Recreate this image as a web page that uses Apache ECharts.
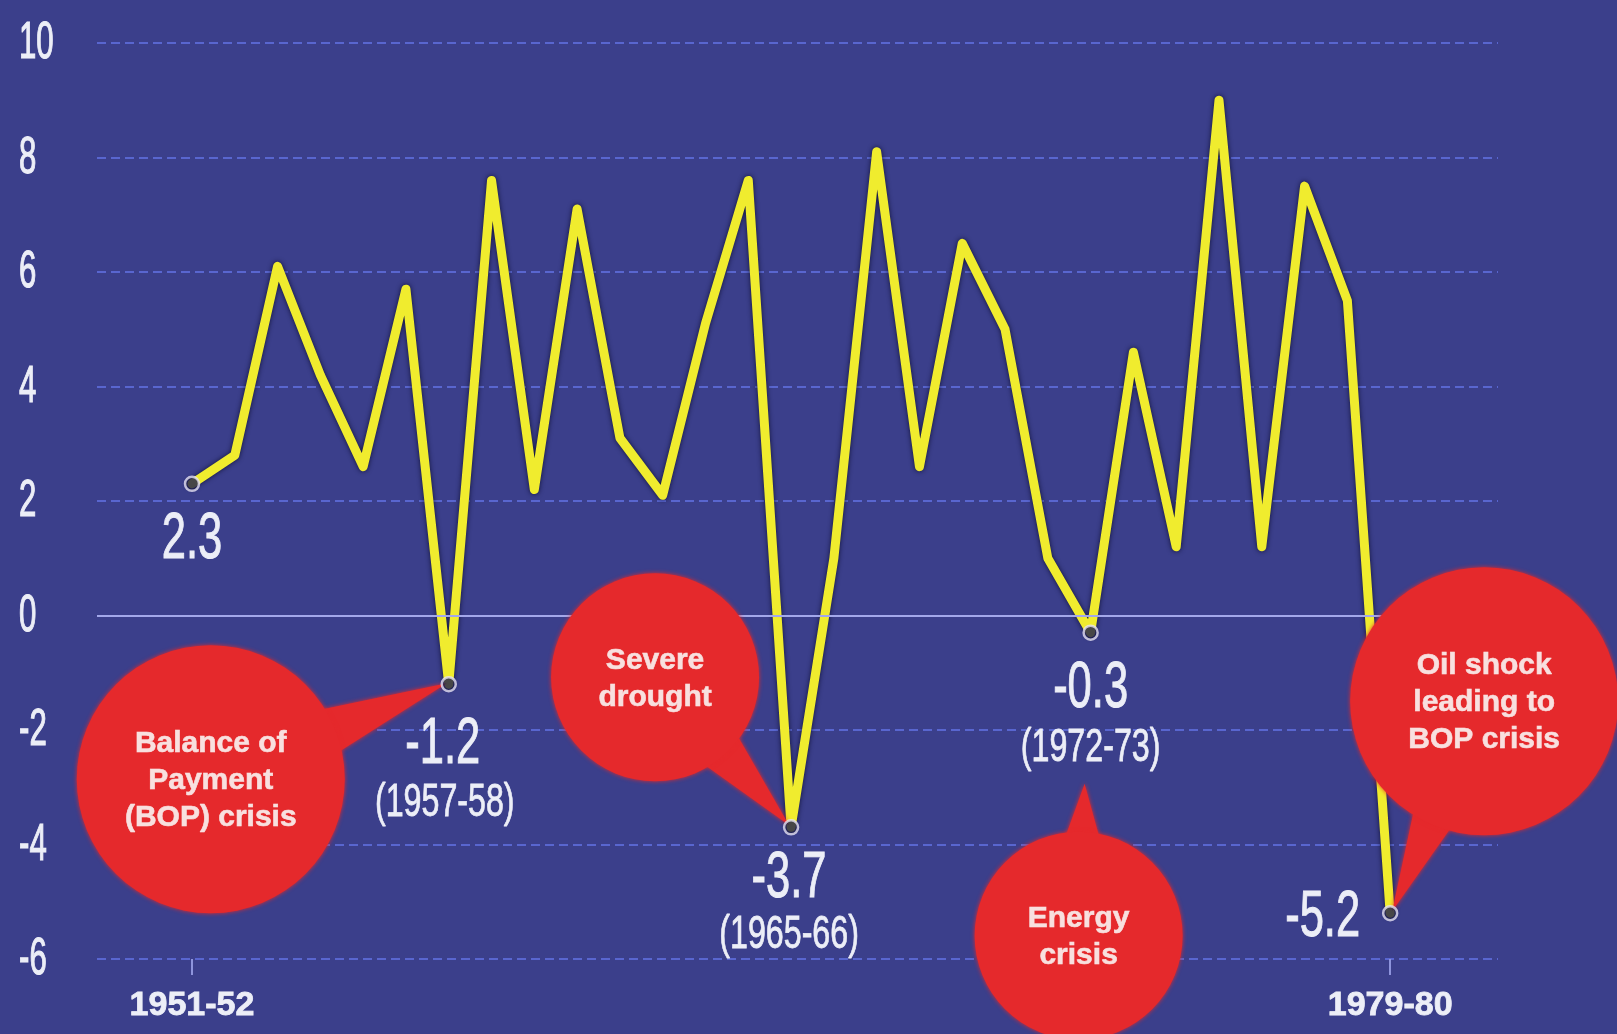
<!DOCTYPE html>
<html>
<head>
<meta charset="utf-8">
<script src="https://cdn.jsdelivr.net/npm/echarts@6/dist/echarts.min.js"></script>
<style>
  html, body { margin: 0; padding: 0; background: #3b3f8b; }
  #chart { width: 1617px; height: 1034px; }
</style>
</head>
<body>
<div id="chart"></div>
<script>
// India: annual GDP growth (%), 1951-52 to 1979-80
const years = [
  '1951-52', '1952-53', '1953-54', '1954-55', '1955-56', '1956-57', '1957-58',
  '1958-59', '1959-60', '1960-61', '1961-62', '1962-63', '1963-64', '1964-65',
  '1965-66', '1966-67', '1967-68', '1968-69', '1969-70', '1970-71', '1971-72',
  '1972-73', '1973-74', '1974-75', '1975-76', '1976-77', '1977-78', '1978-79',
  '1979-80'
];
const growth = [
  2.3, 2.8, 6.1, 4.2, 2.6, 5.7, -1.2,
  7.6, 2.2, 7.1, 3.1, 2.1, 5.1, 7.6,
  -3.7, 1.0, 8.1, 2.6, 6.5, 5.0, 1.0,
  -0.3, 4.6, 1.2, 9.0, 1.2, 7.5, 5.5,
  -5.2
];
const yTicks = [-6, -4, -2, 0, 2, 4, 6, 8, 10];
const xTickYears = ['1951-52', '1979-80'];

// Years whose values are called out with a marker and a number
const markedYears = ['1951-52', '1957-58', '1965-66', '1972-73', '1979-80'];
// Callout bubbles: year they refer to and their text
const calloutYears = ['1957-58', '1965-66', '1972-73', '1979-80'];
const calloutTexts = [
  'Balance of\nPayment\n(BOP) crisis',
  'Severe\ndrought',
  'Energy\ncrisis',
  'Oil shock\nleading to\nBOP crisis'
];

const idx = y => years.indexOf(y);

const chart = echarts.init(document.getElementById('chart'));

const option = {
  backgroundColor: '#3b3f8b',
  animation: false,
  grid: { left: 97, right: 119, top: 43, bottom: 75 },
  xAxis: {
    type: 'value',
    min: -2.22,
    max: 30.52,
    axisLine: { show: false, onZero: false },
    splitLine: { show: false },
    axisTick: {
      show: true,
      customValues: xTickYears.map(idx),
      length: 16,
      lineStyle: { color: '#8e94dc', width: 2 }
    },
    axisLabel: {
      show: true,
      customValues: xTickYears.map(idx),
      formatter: v => years[Math.round(v)],
      margin: 30,
      color: '#eceef7',
      fontFamily: '"Liberation Sans", Arial, sans-serif',
      fontWeight: 'bold',
      fontSize: 34,
      textBorderColor: '#eceef7',
      textBorderWidth: 0.8
    }
  },
  yAxis: {
    type: 'value',
    min: -6,
    max: 10,
    interval: 2,
    axisLine: { show: false },
    axisTick: { show: false },
    axisLabel: { show: false },
    splitLine: {
      show: true,
      lineStyle: { color: '#5966cf', width: 2, type: [9, 5] }
    }
  },
  series: [
    {
      type: 'line',
      z: 2,
      data: growth.map((v, i) => [i, v]),
      symbol: 'none',
      lineStyle: {
        color: '#f0ec2e',
        width: 9,
        join: 'round',
        cap: 'round',
        shadowColor: 'rgba(10,10,40,0.85)',
        shadowBlur: 5
      },
      markLine: {
        silent: true,
        symbol: 'none',
        label: { show: false },
        lineStyle: { color: '#a3a8ea', width: 2, type: 'solid' },
        data: [{ yAxis: 0 }]
      }
    },
    {
      type: 'scatter',
      z: 20,
      data: markedYears.map(y => [idx(y), growth[idx(y)]]),
      symbol: 'circle',
      symbolSize: 14,
      itemStyle: { color: '#1d1e4e', borderColor: '#e6e2f4', borderWidth: 2.5 }
    }
  ]
};
chart.setOption(option);

const px = (i, v) => chart.convertToPixel({ gridIndex: 0 }, [i, v]);

// Condensed numerals: regular sans squeezed horizontally
const condensedFont = (size) => size + 'px "Liberation Sans", Arial, sans-serif';
const textColor = '#eceef7';

const graphics = [];

// Y-axis numbers
yTicks.forEach(t => {
  const p = px(0, t);
  graphics.push({
    type: 'text',
    x: 19, y: p[1] + 1,
    scaleX: 0.6,
    z: 30,
    style: {
      text: String(t),
      font: condensedFont(52),
      fill: textColor,
      stroke: textColor,
      lineWidth: 1.2,
      align: 'left',
      verticalAlign: 'middle'
    }
  });
});

// Value / year callouts beside marked points: [dx, dy] of value, [dx, dy] of year
const valueLayout = {
  '1951-52': { v: [0, 57], y: null, align: 'center' },
  '1957-58': { v: [-6, 61], y: [-4, 119], align: 'center' },
  '1965-66': { v: [-2, 52], y: [-2, 108], align: 'center' },
  '1972-73': { v: [0, 57], y: [0, 116], align: 'center' },
  '1979-80': { v: [-30, 5], y: null, align: 'right' }
};
markedYears.forEach(yr => {
  const i = idx(yr);
  const p = px(i, growth[i]);
  const L = valueLayout[yr];
  graphics.push({
    type: 'text',
    x: p[0] + L.v[0], y: p[1] + L.v[1],
    scaleX: 0.68,
    z: 30,
    style: {
      text: growth[i].toFixed(1),
      font: condensedFont(64),
      fill: textColor,
      stroke: textColor,
      lineWidth: 1,
      align: L.align,
      verticalAlign: 'middle'
    }
  });
  if (L.y) {
    graphics.push({
      type: 'text',
      x: p[0] + L.y[0], y: p[1] + L.y[1],
      scaleX: 0.7,
      z: 30,
      style: {
        text: '(' + yr + ')',
        font: condensedFont(46),
        fill: textColor,
        stroke: textColor,
        lineWidth: 0.8,
        align: 'center',
        verticalAlign: 'middle'
      }
    });
  }
});

// Red speech bubbles: centre offset, radius, tail tip offset (all relative to the point)
const bubbleLayout = [
  { c: [-238, 95], r: 134, tip: [-2, -1], spread: 0.26 },
  { c: [-136, -150], r: 104, tip: [-2, -2], spread: 0.32 },
  { c: [-12, 303], r: 104, tip: [-6, 151], spread: 0.28 },
  { c: [94, -212], r: 134, tip: [2, -2], spread: 0.24 }
];
const red = '#e5292c';
calloutYears.forEach((yr, k) => {
  const i = idx(yr);
  const p = px(i, growth[i]);
  const B = bubbleLayout[k];
  const cx = p[0] + B.c[0], cy = p[1] + B.c[1];
  const tx = p[0] + B.tip[0], ty = p[1] + B.tip[1];
  const ang = Math.atan2(ty - cy, tx - cx);
  const a1 = ang - B.spread, a2 = ang + B.spread;
  graphics.push({
    type: 'polygon',
    z: 10,
    shape: {
      points: [
        [cx + B.r * 0.8 * Math.cos(a1), cy + B.r * 0.8 * Math.sin(a1)],
        [tx, ty],
        [cx + B.r * 0.8 * Math.cos(a2), cy + B.r * 0.8 * Math.sin(a2)]
      ]
    },
    style: { fill: red, shadowColor: red, shadowBlur: 4 }
  });
  graphics.push({
    type: 'circle',
    z: 10,
    shape: { cx: cx, cy: cy, r: B.r },
    style: { fill: red, shadowColor: red, shadowBlur: 4 }
  });
  graphics.push({
    type: 'text',
    x: cx, y: cy + 2,
    z: 11,
    style: {
      text: calloutTexts[k],
      font: 'bold 30px "Liberation Sans", Arial, sans-serif',
      fill: '#f8e0df',
      stroke: '#f8e0df',
      lineWidth: 0.6,
      align: 'center',
      verticalAlign: 'middle',
      lineHeight: 37
    }
  });
});

chart.setOption({ graphic: { elements: graphics } });
</script>
</body>
</html>
